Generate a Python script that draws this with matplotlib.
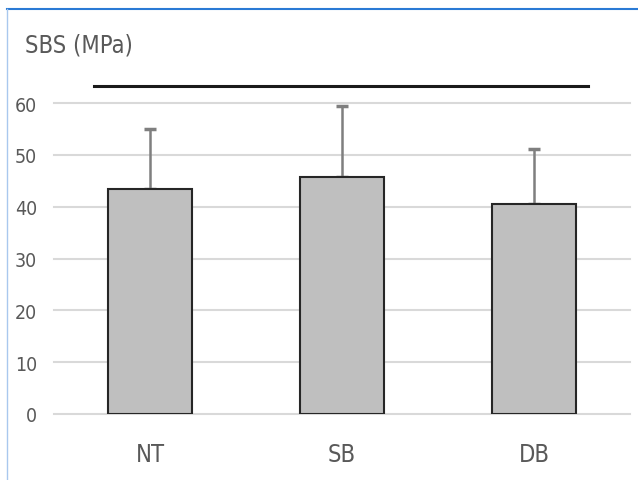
import matplotlib
matplotlib.use("Agg")
import matplotlib.pyplot as plt
from matplotlib.lines import Line2D

groups = ["NT", "SB", "DB"]
sbs_mean = [43.5, 45.8, 40.6]
sbs_sd = [11.5, 13.7, 10.6]
bracket_y = 63.3

plt.rcParams["font.family"] = ["DejaVu Sans"]
plt.rcParams["font.stretch"] = "condensed"

fig = plt.figure(figsize=(6.38, 4.81), dpi=100)
ax = fig.add_axes([54 / 638, 1 - 415 / 481, 576 / 638, 311 / 481])

x = range(len(groups))
ax.bar(x, sbs_mean, width=0.44, color="#bfbfbf", edgecolor="#262626",
       linewidth=1.5, zorder=3)
ax.errorbar(x, sbs_mean, yerr=[[0] * len(groups), sbs_sd], fmt="none",
            ecolor="#7f7f7f", elinewidth=1.8, capsize=4, capthick=2.5, zorder=2)

ax.set_xlim(-0.5, 2.5)
ax.set_ylim(0, 60)
ax.set_yticks(range(0, 61, 10))
ax.set_xticks(list(x))
ax.set_xticklabels(groups)
ax.grid(axis="y", color="#d9d9d9", linewidth=1.5, zorder=0)
for gl in ax.get_ygridlines():
    gl.set_clip_on(False)
ax.set_axisbelow(True)
for s in ax.spines.values():
    s.set_visible(False)
ax.tick_params(length=0, labelsize=14, labelcolor="#595959")
ax.tick_params(axis="y", pad=12)
ax.tick_params(axis="x", labelsize=17, pad=20)

# bracket line above bars
ax.plot([-0.29, 2.28], [bracket_y, bracket_y], color="#1a1a1a", linewidth=2.2,
        clip_on=False)

fig.text(25 / 638, 1 - 46 / 481, "SBS (MPa)", fontsize=17, color="#595959",
         va="center", ha="left")

# frame edges of the original screenshot
fig.add_artist(Line2D([7 / 638, 1], [1 - 10 / 481] * 2, color="#2a7ad5",
                      linewidth=1.5, transform=fig.transFigure))
fig.add_artist(Line2D([7 / 638] * 2, [0, 1 - 10 / 481], color="#a9c8ee",
                      linewidth=1.0, transform=fig.transFigure))

fig.savefig("out.png", dpi=100)
